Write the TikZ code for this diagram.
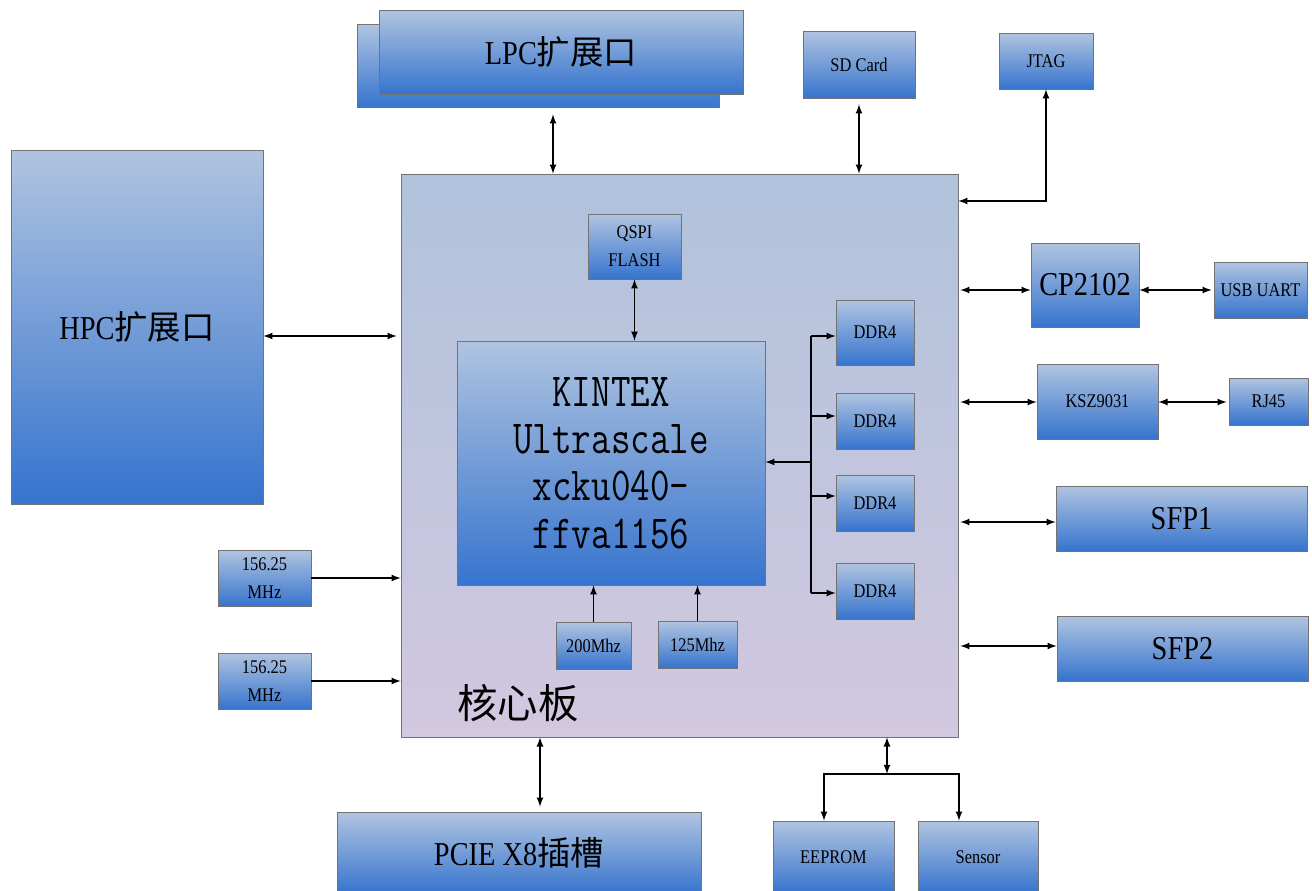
\documentclass[tikz,border=0pt]{standalone}
\usepackage{fontspec}
\setmainfont{Liberation Serif}[FakeStretch=0.85]
\newfontfamily\cjk{Noto Sans CJK SC}
\newfontfamily\chipfont{Latin Modern Mono}[FakeStretch=0.8]
\usetikzlibrary{positioning}
\definecolor{boxtop}{RGB}{176,196,224}
\definecolor{boxbot}{RGB}{54,116,206}
\definecolor{coretop}{RGB}{176,194,220}
\definecolor{corebot}{RGB}{210,200,224}
\def\px{0.02cm}
\tikzset{
  blk/.style={draw=black!55, top color=boxtop, bottom color=boxbot,
    inner sep=1pt, align=center, font=\fontsize{11}{16}\selectfont},
  big/.style={font=\fontsize{19}{22}\selectfont},
  bi/.style={<->, line width=0.8pt},
  one/.style={->, line width=0.8pt},
}
\begin{document}
\begin{tikzpicture}[x=\px, y=-\px, >=latex]
\useasboundingbox (0,0) rectangle (1312,890);
% core board
\node[draw=black!55, top color=coretop, bottom color=corebot,
  minimum width=557*\px, minimum height=563*\px] (core) at (679.5,455.5) {};
\node[font=\cjk\fontsize{23}{26}\selectfont] (corelbl) at (518,703) {核心板};
% top
\node[blk, big, minimum width=362*\px, minimum height=83*\px] (lpcb) at (538,65.5) {};
\node[blk, big, minimum width=364*\px, minimum height=84*\px] (lpc) at (561,52) {LPC{\cjk 扩展口}};
\node[blk, minimum width=112*\px, minimum height=67*\px] (sd) at (859,64.5) {SD Card};
\node[blk, minimum width=94*\px, minimum height=56*\px] (jtag) at (1046,61) {JTAG};
% inside core
\node[blk, minimum width=93*\px, minimum height=65*\px] (qspi) at (634.5,246.5) {QSPI\\FLASH};
\node[blk, minimum width=308*\px, minimum height=244*\px,
  font=\chipfont\fontsize{27}{27}\selectfont] (fpga) at (611,463) {KINTEX\\Ultrascale\\xcku040-\\ffva1156};
\node[blk, minimum width=78*\px, minimum height=65*\px] (ddr1) at (875,332.5) {DDR4};
\node[blk, minimum width=78*\px, minimum height=56*\px] (ddr2) at (875,421) {DDR4};
\node[blk, minimum width=78*\px, minimum height=56*\px] (ddr3) at (875,503) {DDR4};
\node[blk, minimum width=78*\px, minimum height=56*\px] (ddr4) at (875,591) {DDR4};
\node[blk, minimum width=75*\px, minimum height=47*\px] (c200) at (593.5,645.5) {200Mhz};
\node[blk, minimum width=79*\px, minimum height=47*\px] (c125) at (697.5,644.5) {125Mhz};
% left
\node[blk, big, minimum width=252*\px, minimum height=354*\px] (hpc) at (137,327) {HPC{\cjk 扩展口}};
\node[blk, minimum width=93*\px, minimum height=56*\px] (osc1) at (264.5,578) {156.25\\MHz};
\node[blk, minimum width=93*\px, minimum height=56*\px] (osc2) at (264.5,681) {156.25\\MHz};
% right
\node[blk, big, minimum width=108*\px, minimum height=84*\px] (cp) at (1085,285) {CP2102};
\node[blk, minimum width=93*\px, minimum height=56*\px] (usb) at (1260.5,290) {USB UART};
\node[blk, minimum width=121*\px, minimum height=75*\px] (ksz) at (1097.5,401.5) {KSZ9031};
\node[blk, minimum width=79*\px, minimum height=47*\px] (rj) at (1268.5,401.5) {RJ45};
\node[blk, big, minimum width=251*\px, minimum height=65*\px] (sfp1) at (1181.5,518.5) {SFP1};
\node[blk, big, minimum width=251*\px, minimum height=65*\px] (sfp2) at (1182.5,648.5) {SFP2};
% bottom
\node[blk, big, minimum width=364*\px, minimum height=82*\px] (pcie) at (519,853) {PCIE X8{\cjk 插槽}};
\node[blk, minimum width=121*\px, minimum height=72*\px] (eeprom) at (833.5,857) {EEPROM};
\node[blk, minimum width=120*\px, minimum height=72*\px] (sensor) at (978,857) {Sensor};
% connectors
\draw[bi, shorten <=7*\px] (lpcb.south -| 553,0) -- (core.north -| 553,0);
\draw[bi, shorten <=6*\px] (sd.south) -- (sd.south |- core.north);
\draw[bi] (core.east |- 0,201) -| (jtag.south);
\draw[bi, shorten >=4*\px] (hpc.east |- 0,336) -- (core.west |- 0,336);
\draw[bi, shorten <=2*\px] (core.east |- 0,290) -- (cp.west |- 0,290);
\draw[bi, shorten >=2*\px] (cp.east |- 0,290) -- (usb.west |- 0,290);
\draw[bi, shorten <=2*\px] (core.east |- 0,402) -- (ksz.west |- 0,402);
\draw[bi, shorten >=2*\px] (ksz.east |- 0,402) -- (rj.west |- 0,402);
\draw[bi, shorten <=2*\px] (core.east |- 0,522) -- (sfp1.west |- 0,522);
\draw[bi, shorten <=2*\px] (core.east |- 0,646) -- (sfp2.west |- 0,646);
\draw[one] (osc1.east) -- (core.west |- osc1.east);
\draw[one] (osc2.east) -- (core.west |- osc2.east);
\draw[one] (c200.north) -- (c200.north |- fpga.south);
\draw[one] (c125.north) -- (c125.north |- fpga.south);
\draw[bi] (qspi.south) -- (qspi.south |- fpga.north);
% ddr bus
\coordinate (bus) at (811,462);
\draw[one] (bus) -- (fpga.east |- bus);
\draw[line width=0.8pt] (811,336) -- (811,593);
\foreach \d/\y in {ddr1/336,ddr2/416,ddr3/496,ddr4/593}
  \draw[one] (811,\y) -- (\d.west |- 0,\y);
\draw[bi, shorten >=5*\px] (core.south -| 540,0) -- (pcie.north -| 540,0);
% i2c
\coordinate (split) at (887,774);
\draw[bi] (core.south -| split) -- (split);
\draw[one] (split) -| (eeprom.north -| 824,0);
\draw[one] (split) -| (sensor.north -| 959,0);
\end{tikzpicture}
\end{document}
